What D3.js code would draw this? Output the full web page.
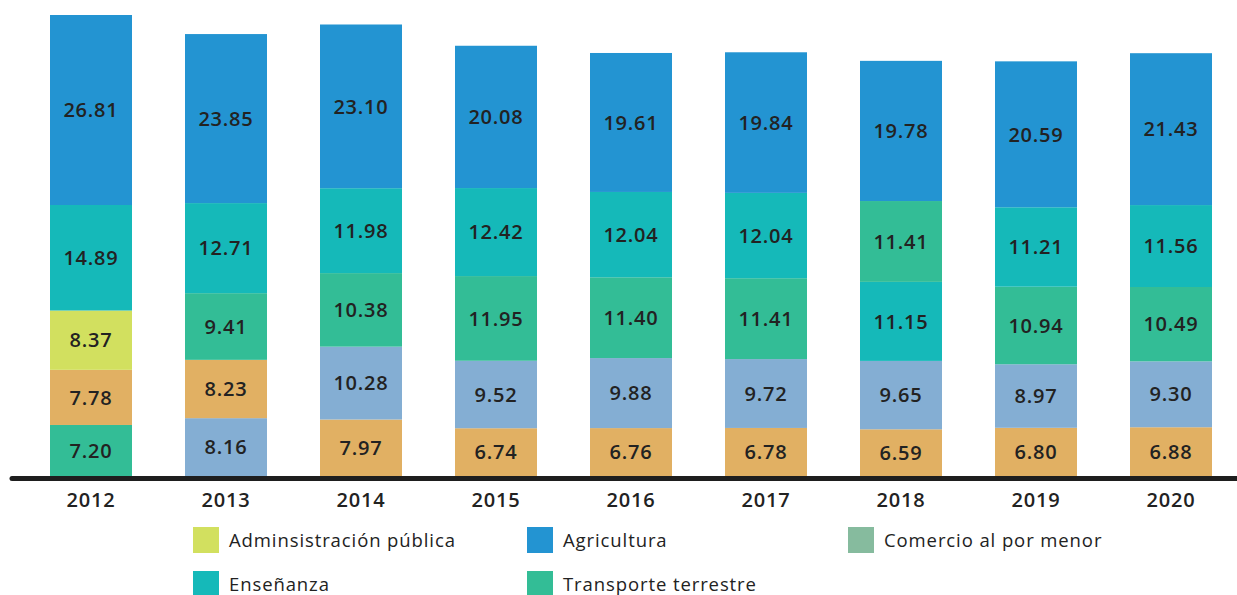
<!DOCTYPE html>
<html><head><meta charset="utf-8">
<script src="https://cdn.jsdelivr.net/npm/d3@7"></script>
<style>
html,body{margin:0;padding:0;background:#fff;}
svg{display:block;font-family:"Open Sans","Noto Sans",sans-serif;}
</style></head>
<body><svg id="c" width="1237" height="595"></svg>
<script>
const years = ["2012","2013","2014","2015","2016","2017","2018","2019","2020"];
const categories = ["Adminsistración pública","Agricultura","Comercio al por menor","Enseñanza","Transporte terrestre","Otra actividad 1","Otra actividad 2"];
const colors = ["#d2e05f","#2394d2","#86bb9e","#15b9b9","#33bd96","#e1b063","#84aed3"];
const adminPublica   = [8.37, null, null, null, null, null, null, null, null];
const agricultura    = [26.81,23.85,23.10,20.08,19.61,19.84,19.78,20.59,21.43];
const comercio       = [null, null, null, null, null, null, null, null, null];
const ensenanza      = [14.89,12.71,11.98,12.42,12.04,12.04,11.15,11.21,11.56];
const transporte     = [7.20, 9.41,10.38,11.95,11.40,11.41,11.41,10.94,10.49];
const otraNaranja    = [7.78, 8.23, 7.97, 6.74, 6.76, 6.78, 6.59, 6.80, 6.88];
const otraCeleste    = [null, 8.16,10.28, 9.52, 9.88, 9.72, 9.65, 8.97, 9.30];
const legendItems = ["Adminsistración pública","Agricultura","Comercio al por menor","Enseñanza","Transporte terrestre"];

const seriesArr = [adminPublica, agricultura, comercio, ensenanza, transporte, otraNaranja, otraCeleste];

// build stacks: each year sorted ascending from bottom
const stacks = years.map((yr, i) => {
  const segs = [];
  seriesArr.forEach((s, k) => { if (s[i] != null) segs.push({cat:k, v:s[i]}); });
  segs.sort((a,b)=>a.v-b.v);
  let acc = 0;
  segs.forEach(d => { d.y0 = acc; acc += d.v; d.y1 = acc; d.year = yr; });
  return {year: yr, segs, total: acc};
});

const svg = d3.select("#c");
const x = d3.scaleBand().domain(years).range([23, 1239]).paddingInner(0.3926).paddingOuter(0.2);
const y = d3.scaleLinear().domain([0, d3.max(stacks, d=>d.total)]).range([476, 15]);

const g = svg.append("g");
stacks.forEach(st => {
  const bg = g.append("g");
  bg.selectAll("rect").data(st.segs).join("rect")
    .attr("x", x(st.year)).attr("width", x.bandwidth())
    .attr("y", d=>y(d.y1)).attr("height", d=>y(d.y0)-y(d.y1))
    .attr("fill", d=>colors[d.cat]);
  bg.selectAll("text").data(st.segs).join("text")
    .attr("x", x(st.year)+x.bandwidth()/2)
    .attr("y", d=>(y(d.y0)+y(d.y1))/2)
    .attr("dy","0.36em")
    .attr("text-anchor","middle")
    .attr("font-size", 20).attr("font-weight", 600).attr("fill","#222")
    .attr("letter-spacing", 0.8)
    .text(d=>d.v.toFixed(2));
});

// baseline axis
svg.append("line").attr("x1", 12).attr("x2", 1237).attr("y1", y(0)+2.5).attr("y2", y(0)+2.5)
  .attr("stroke","#1e1e1e").attr("stroke-width",5).attr("stroke-linecap","round");

const xAxis = d3.axisBottom(x).tickSize(0).tickPadding(0);
const ax = svg.append("g").attr("transform",`translate(0,${y(0)+24})`).call(xAxis);
ax.select(".domain").remove();
ax.selectAll("text").attr("font-size",20).attr("font-weight",600).attr("fill","#222")
  .attr("font-family","'Open Sans',sans-serif").attr("letter-spacing",0.8).attr("dy","0.36em");

// legend
const colX = [193, 527, 848];
const rowY = [540, 584];
const lg = svg.append("g");
legendItems.forEach((name, i) => {
  const ci = categories.indexOf(name);
  const cx = colX[i%3], cy = rowY[Math.floor(i/3)];
  lg.append("rect").attr("x",cx).attr("y",cy-13).attr("width",26).attr("height",26).attr("fill",colors[ci]);
  lg.append("text").attr("x",cx+36).attr("y",cy).attr("dy","0.36em")
    .attr("font-size",18.5).attr("letter-spacing",0.9).attr("fill","#222").text(name);
});
</script></body></html>
